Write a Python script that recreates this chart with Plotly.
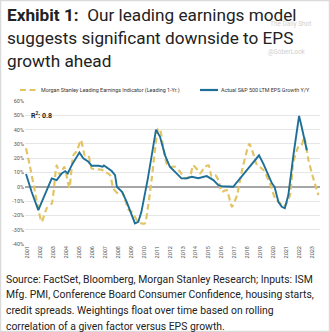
import plotly.graph_objects as go

# Morgan Stanley Leading Earnings Indicator (leading 1 yr), % y/y
lei_x = [2000.87, 2001.18, 2001.56, 2002.08, 2002.47, 2002.86, 2003.24, 2003.5, 2003.83, 2004.22,
         2004.53, 2004.8, 2005.12, 2005.43, 2005.7, 2005.95, 2006.7, 2007.0, 2007.37, 2007.63,
         2008.0, 2008.3, 2008.8, 2009.05, 2009.5, 2009.8, 2010.07, 2010.33, 2010.6, 2011.1,
         2011.24, 2011.5, 2011.76, 2012.0, 2012.4, 2012.8, 2013.17, 2013.55, 2013.8, 2014.06,
         2014.34, 2014.72, 2015.0, 2015.24, 2015.5, 2015.75, 2016.0, 2016.4, 2016.8, 2017.2,
         2017.56, 2018.15, 2018.46, 2018.7, 2019.24, 2019.75, 2020.14, 2020.53, 2020.8, 2021.03,
         2021.3, 2021.56, 2021.95, 2022.2, 2022.4, 2022.73, 2023.1, 2023.5]
lei_y = [27, 14, -3.5, -24.5, -15, -11.6, 15, 8, 14, -0.7,
         22, 25, 32.6, 22, 22, 12.8, 12, 10.5, 8.2, -1.2,
         -4.7, -3.5, -16, -17.5, -24, -25.6, -25.6, -12.8, 5.9, 40.8,
         40, 27, 16, 14, 14, 10.5, 5.9, 7, 15, 12.8,
         9.4, 14, 15, 7, 8.2, 4.7, -3.5, -2.3, -14, -5.8,
         10.5, 30, 23, 16, 11.7, 2.4, -8, -11.6, -14, -11.6,
         -5.8, 17.5, 28, 29, 35, 18.6, 5.9, -5.8]

# Actual S&P 500 LTM EPS growth, % y/y
eps_x = [2000.87, 2001.3, 2001.82, 2002.3, 2002.86, 2003.24, 2003.63, 2003.9, 2004.1, 2004.4,
         2005.0, 2005.3, 2005.7, 2005.95, 2006.5, 2006.8, 2006.9, 2007.5, 2007.76, 2007.9,
         2008.3, 2008.66, 2009.3, 2009.56, 2009.8, 2010.3, 2010.93, 2011.24, 2011.63, 2012.0,
         2012.5, 2012.9, 2013.3, 2013.7, 2014.2, 2014.85, 2015.37, 2015.75, 2016.0, 2016.9,
         2018.9, 2019.24, 2019.9, 2020.1, 2020.4, 2020.66, 2020.9, 2021.17, 2021.56, 2022.0,
         2022.2, 2022.6]
eps_y = [9, -3.5, -16.3, -5.8, 5.9, 4.7, 9.4, 11, 9.4, 15,
         24, 20, 17.5, 14.7, 14.7, 14, 14.9, 11, 8.2, 0,
         -3.5, -10.5, -25.6, -24.5, -17.5, 5.9, 40, 35, 22, 14,
         9.4, 5.9, 6, 7, 6, 7.5, 4.7, 1.2, 0.5, 0,
         22, 16, 2.4, 0, -10.5, -14, -15, -5.8, 22, 49.6,
         42, 25.6]

series_names = ["Morgan Stanley Leading Earnings Indicator (Leading 1-Yr.)",
                "Actual S&P 500 LTM EPS Growth Y/Y"]

years = list(range(2001, 2024))
y_ticks = [60, 50, 40, 30, 20, 10, 0, -10, -20, -30, -40]

GOLD = "#E3C465"
BLUE = "#1D6F98"
FONT = "Roboto"
GOLD_DASH = "6px,3.5px"

W, H = 330, 332
ML, MR, MT, MB = 25, 10, 101, 88
PW, PH = W - ML - MR, H - MT - MB


def px_x(p):
    """Horizontal pixel position -> paper fraction."""
    return (p - ML) / PW


def px_y(p):
    """Vertical pixel position (from top) -> paper fraction."""
    return (H - MB - p) / PH


fig = go.Figure()
fig.add_trace(go.Scatter(
    x=lei_x, y=lei_y, mode="lines", name=series_names[0], showlegend=False,
    line=dict(color=GOLD, width=2.2, dash=GOLD_DASH, shape="spline", smoothing=0.5),
))
fig.add_trace(go.Scatter(
    x=eps_x, y=eps_y, mode="lines", name=series_names[1], showlegend=False,
    line=dict(color=BLUE, width=1.9),
))

fig.update_layout(
    width=W, height=H,
    margin=dict(l=ML, r=MR, t=MT, b=MB),
    paper_bgcolor="white", plot_bgcolor="white",
    font=dict(family=FONT, color="#333333"),
    showlegend=False,
    xaxis=dict(range=[2000.79, 2023.62], tickmode="array", tickvals=years,
               ticktext=[str(y) for y in years], tickangle=-90,
               tickfont=dict(size=5.5, color="#555555"),
               showgrid=False, zeroline=False, showline=False, ticks=""),
    yaxis=dict(range=[-40, 60], tickmode="array", tickvals=y_ticks,
               ticktext=[f"{v}%" for v in y_ticks],
               tickfont=dict(size=5.5, color="#555555"),
               showgrid=True, gridcolor="#E6E6E6", gridwidth=1,
               zeroline=True, zerolinecolor="#A6A6A6", zerolinewidth=2,
               showline=False, ticks=""),
)

# Key above the plot: line sample + series name for each series
key_items = [(series_names[0], GOLD, GOLD_DASH, 2.2, 20),
             (series_names[1], BLUE, "solid", 2.2, 200)]
for name, color, dash, width, x0 in key_items:
    fig.add_shape(type="line", xref="paper", yref="paper",
                  x0=px_x(x0), x1=px_x(x0 + 18), y0=px_y(90), y1=px_y(90),
                  line=dict(color=color, width=width, dash=dash))
    fig.add_annotation(text=name, xref="paper", yref="paper", x=px_x(x0 + 18.5), y=px_y(90),
                       xanchor="left", yanchor="middle", showarrow=False,
                       font=dict(size=5.4, color="#333333", family=FONT))

# Title lines
title_lines = ["<b>Exhibit 1:</b>  Our leading earnings model",
               "suggests significant downside to EPS",
               "growth ahead"]
for i, t in enumerate(title_lines):
    fig.add_annotation(text=t, xref="paper", yref="paper", x=px_x(5), y=px_y(15 + 23 * i),
                       xanchor="left", yanchor="middle", showarrow=False,
                       font=dict(size=17.2, color="#222222", family=FONT))

# Watermarks
fig.add_annotation(text="The Daily Shot", xref="paper", yref="paper", x=px_x(313),
                   y=px_y(24), xanchor="right", yanchor="middle", showarrow=False,
                   font=dict(size=6.5, color="#CFCFCF", family=FONT))
fig.add_annotation(text="@SoberLook", xref="paper", yref="paper", x=px_x(308),
                   y=px_y(52), xanchor="right", yanchor="middle", showarrow=False,
                   font=dict(size=6.5, color="#CFCFCF", family=FONT))

# R-squared label
fig.add_annotation(text="<b>R<sup>2</sup>: 0.8</b>", x=2001.1, y=50, xanchor="left",
                   yanchor="middle", showarrow=False,
                   font=dict(size=7, color="#222222", family=FONT))

# Source note
source_lines = ["Source: FactSet, Bloomberg, Morgan Stanley Research; Inputs: ISM",
                "Mfg. PMI, Conference Board Consumer Confidence, housing starts,",
                "credit spreads. Weightings float over time based on rolling",
                "correlation of a given factor versus EPS growth."]
for i, t in enumerate(source_lines):
    fig.add_annotation(text=t, xref="paper", yref="paper", x=px_x(4), y=px_y(279 + 15.7 * i),
                       xanchor="left", yanchor="middle", showarrow=False,
                       font=dict(size=10.4, color="#222222", family=FONT))

# Thin frame round the exhibit
fig.add_shape(type="rect", xref="paper", yref="paper",
              x0=px_x(0.5), x1=px_x(W - 0.5), y0=px_y(H - 0.5), y1=px_y(0.5),
              line=dict(color="#DADADA", width=1.5), fillcolor="rgba(0,0,0,0)")

fig.write_html("out.html")
